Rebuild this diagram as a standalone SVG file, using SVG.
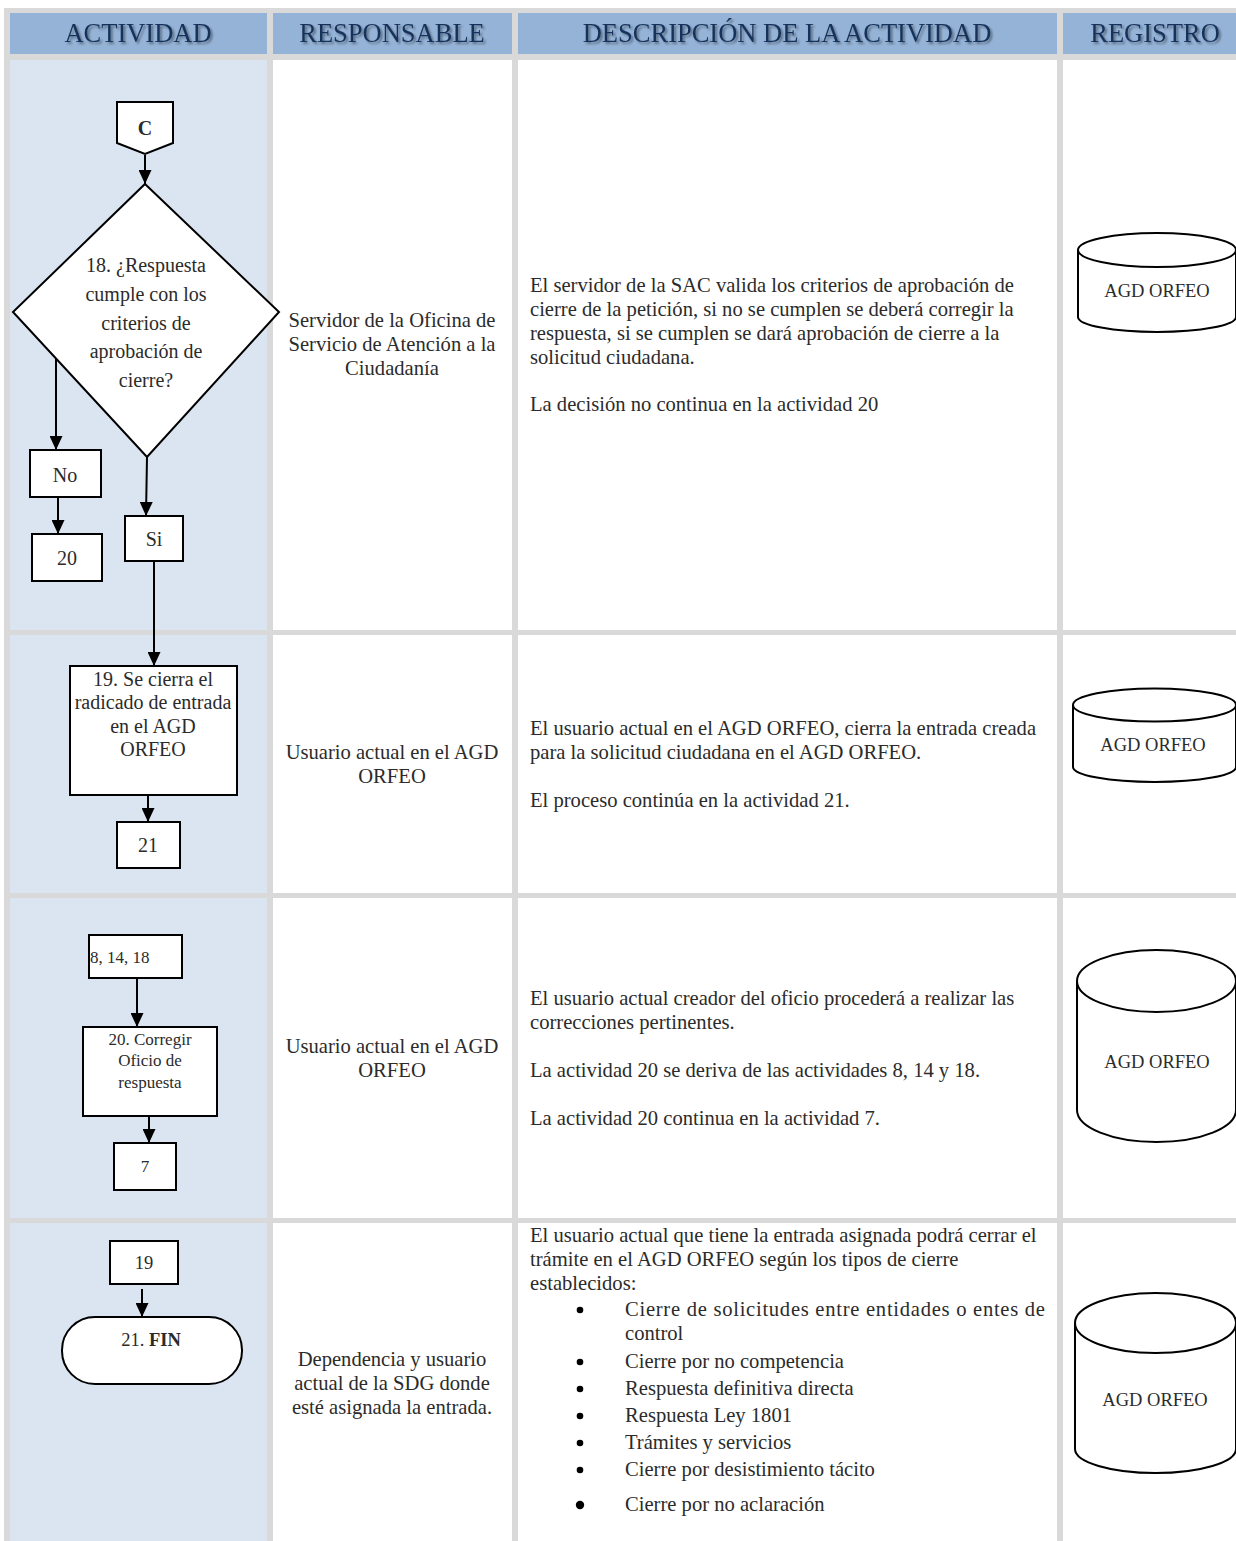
<svg xmlns="http://www.w3.org/2000/svg" width="1236" height="1541" viewBox="0 0 1236 1541">
<style>
.hd{font-family:"Liberation Serif","Times New Roman",serif;font-size:26.5px;fill:#17335a;text-anchor:middle}
.t{font-family:"Liberation Serif","Times New Roman",serif;font-size:20px;fill:#2b2b2b}
.b{font-size:20.6px}
.c{text-anchor:middle}
.s17{font-size:17px}
.s18{font-size:18.5px}
.sh{fill:#fff;stroke:#000;stroke-width:2}
.cn{stroke:#000;stroke-width:2;fill:none}
</style>
<defs>
<filter id="shadow" x="-10%" y="-30%" width="120%" height="160%">
<feDropShadow dx="2" dy="2" stdDeviation="1.3" flood-color="#000" flood-opacity="0.4"/>
</filter>
<marker id="ah" markerUnits="userSpaceOnUse" markerWidth="14" markerHeight="13" refX="14" refY="6.5" orient="auto">
<path d="M0,0 L14,6.5 L0,13 z" fill="#000"/>
</marker>
</defs>
<rect x="0" y="0" width="1236" height="1541" fill="#fff"/>
<g id="table">
<rect x="4" y="8" width="1232" height="1533" fill="#d9d9d9"/>
<rect x="10" y="13" width="257" height="41" fill="#95b3d7"/>
<rect x="273" y="13" width="239" height="41" fill="#95b3d7"/>
<rect x="518" y="13" width="539" height="41" fill="#95b3d7"/>
<rect x="1063" y="13" width="173" height="41" fill="#95b3d7"/>
<rect x="10" y="60" width="257" height="570" fill="#dbe5f1"/>
<rect x="273" y="60" width="239" height="570" fill="#fff"/>
<rect x="518" y="60" width="539" height="570" fill="#fff"/>
<rect x="1063" y="60" width="173" height="570" fill="#fff"/>
<rect x="10" y="635" width="257" height="258" fill="#dbe5f1"/>
<rect x="273" y="635" width="239" height="258" fill="#fff"/>
<rect x="518" y="635" width="539" height="258" fill="#fff"/>
<rect x="1063" y="635" width="173" height="258" fill="#fff"/>
<rect x="10" y="898" width="257" height="320" fill="#dbe5f1"/>
<rect x="273" y="898" width="239" height="320" fill="#fff"/>
<rect x="518" y="898" width="539" height="320" fill="#fff"/>
<rect x="1063" y="898" width="173" height="320" fill="#fff"/>
<rect x="10" y="1223" width="257" height="318" fill="#dbe5f1"/>
<rect x="273" y="1223" width="239" height="318" fill="#fff"/>
<rect x="518" y="1223" width="539" height="318" fill="#fff"/>
<rect x="1063" y="1223" width="173" height="318" fill="#fff"/>
<g filter="url(#shadow)">
<text class="hd" x="138" y="42">ACTIVIDAD</text>
<text class="hd" x="392" y="42">RESPONSABLE</text>
<text class="hd" x="787" y="42">DESCRIPCIÓN DE LA ACTIVIDAD</text>
<text class="hd" x="1155" y="42">REGISTRO</text>
</g>
</g>
<g id="connectors">
<line class="cn" x1="145" y1="155" x2="145" y2="184" marker-end="url(#ah)"/>
<line class="cn" x1="56" y1="359" x2="56" y2="450" marker-end="url(#ah)"/>
<line class="cn" x1="58" y1="497" x2="58" y2="534" marker-end="url(#ah)"/>
<line class="cn" x1="147" y1="457" x2="146" y2="516" marker-end="url(#ah)"/>
<line class="cn" x1="154" y1="561" x2="154" y2="666" marker-end="url(#ah)"/>
<line class="cn" x1="148" y1="795" x2="148" y2="822" marker-end="url(#ah)"/>
<line class="cn" x1="137" y1="978" x2="137" y2="1027" marker-end="url(#ah)"/>
<line class="cn" x1="149" y1="1116" x2="149" y2="1143" marker-end="url(#ah)"/>
<line class="cn" x1="142" y1="1289" x2="142" y2="1317" marker-end="url(#ah)"/>
</g>
<g id="node-C">
<path class="sh" d="M117,102 L173,102 L173,143 L145,154 L117,143 Z"/>
<text class="t c" x="145" y="135" font-weight="bold">C</text>
</g>
<g id="node-18">
<path class="sh" d="M145,184 L279,312 L147,457 L13,312 Z"/>
<text class="t c" x="146" y="272">18. ¿Respuesta</text>
<text class="t c" x="146" y="301">cumple con los</text>
<text class="t c" x="146" y="330">criterios de</text>
<text class="t c" x="146" y="358">aprobación de</text>
<text class="t c" x="146" y="387">cierre?</text>
</g>
<g id="node-no">
<rect class="sh" x="30" y="450" width="71" height="47"/>
<text class="t c" x="65" y="482">No</text>
</g>
<g id="node-20a">
<rect class="sh" x="32" y="534" width="70" height="47"/>
<text class="t c" x="67" y="565">20</text>
</g>
<g id="node-si">
<rect class="sh" x="125" y="516" width="58" height="45"/>
<text class="t c" x="154" y="546">Si</text>
</g>
<g id="node-19">
<rect class="sh" x="70" y="666" width="167" height="129"/>
<text class="t c" x="153" y="686" font-size="20.5">19. Se cierra el</text>
<text class="t c" x="153" y="709" font-size="20.5">radicado de entrada</text>
<text class="t c" x="153" y="733" font-size="20.5">en el AGD</text>
<text class="t c" x="153" y="756" font-size="20.5">ORFEO</text>
</g>
<g id="node-21a">
<rect class="sh" x="117" y="822" width="63" height="46"/>
<text class="t c" x="148" y="852">21</text>
</g>
<g id="node-8-14-18">
<rect class="sh" x="89" y="935" width="93" height="43"/>
<text class="t s17" x="90" y="963">8, 14, 18</text>
</g>
<g id="node-20">
<rect class="sh" x="83" y="1027" width="134" height="89"/>
<text class="t c s17" x="150" y="1045">20. Corregir</text>
<text class="t c s17" x="150" y="1066">Oficio de</text>
<text class="t c s17" x="150" y="1088">respuesta</text>
</g>
<g id="node-7">
<rect class="sh" x="114" y="1143" width="62" height="47"/>
<text class="t c s17" x="145" y="1172">7</text>
</g>
<g id="node-19b">
<rect class="sh" x="110" y="1241" width="68" height="43"/>
<text class="t c s18" x="144" y="1269">19</text>
</g>
<g id="node-fin">
<rect class="sh" x="62" y="1317" width="180" height="67" rx="33" ry="33"/>
<text class="t c s18" x="151" y="1346">21. <tspan font-weight="bold">FIN</tspan></text>
</g>
<g id="responsables">
<text class="t b c" x="392" y="327">Servidor de la Oficina de</text>
<text class="t b c" x="392" y="351">Servicio de Atención a la</text>
<text class="t b c" x="392" y="375">Ciudadanía</text>
<text class="t b c" x="392" y="759">Usuario actual en el AGD</text>
<text class="t b c" x="392" y="783">ORFEO</text>
<text class="t b c" x="392" y="1053">Usuario actual en el AGD</text>
<text class="t b c" x="392" y="1077">ORFEO</text>
<text class="t b c" x="392" y="1366">Dependencia y usuario</text>
<text class="t b c" x="392" y="1390">actual de la SDG donde</text>
<text class="t b c" x="392" y="1414">esté asignada la entrada.</text>
</g>
<g id="descripciones">
<text class="t b" x="530" y="292">El servidor de la SAC valida los criterios de aprobación de</text>
<text class="t b" x="530" y="316">cierre de la petición, si no se cumplen se deberá corregir la</text>
<text class="t b" x="530" y="340">respuesta, si se cumplen se dará aprobación de cierre a la</text>
<text class="t b" x="530" y="364">solicitud ciudadana.</text>
<text class="t b" x="530" y="411">La decisión no continua en la actividad 20</text>
<text class="t b" x="530" y="735">El usuario actual en el AGD ORFEO, cierra la entrada creada</text>
<text class="t b" x="530" y="759">para la solicitud ciudadana en el AGD ORFEO.</text>
<text class="t b" x="530" y="807">El proceso continúa en la actividad 21.</text>
<text class="t b" x="530" y="1005">El usuario actual creador del oficio procederá a realizar las</text>
<text class="t b" x="530" y="1029">correcciones pertinentes.</text>
<text class="t b" x="530" y="1077">La actividad 20 se deriva de las actividades 8, 14 y 18.</text>
<text class="t b" x="530" y="1125">La actividad 20 continua en la actividad 7.</text>
<text class="t b" x="530" y="1242">El usuario actual que tiene la entrada asignada podrá cerrar el</text>
<text class="t b" x="530" y="1266">trámite en el AGD ORFEO según los tipos de cierre</text>
<text class="t b" x="530" y="1290">establecidos:</text>
<circle cx="580" cy="1310" r="3.3"/>
<circle cx="580" cy="1362" r="3.3"/>
<circle cx="580" cy="1389" r="3.3"/>
<circle cx="580" cy="1416" r="3.3"/>
<circle cx="580" cy="1443" r="3.3"/>
<circle cx="580" cy="1470" r="3.3"/>
<circle cx="580" cy="1505" r="4.2"/>
<text class="t b" x="625" y="1316" textLength="420" lengthAdjust="spacing">Cierre de solicitudes entre entidades o entes de</text>
<text class="t b" x="625" y="1340">control</text>
<text class="t b" x="625" y="1368">Cierre por no competencia</text>
<text class="t b" x="625" y="1395">Respuesta definitiva directa</text>
<text class="t b" x="625" y="1422">Respuesta Ley 1801</text>
<text class="t b" x="625" y="1449">Trámites y servicios</text>
<text class="t b" x="625" y="1476">Cierre por desistimiento tácito</text>
<text class="t b" x="625" y="1511">Cierre por no aclaración</text>
</g>
<g id="registro-1">
<path class="sh" d="M1078,250 A79,17 0 0 1 1236,250 L1236,317 A79,15 0 0 1 1078,317 Z"/>
<path class="cn" d="M1078,250 A79,17 0 0 0 1236,250"/>
<text class="t c s18" x="1157" y="297">AGD ORFEO</text>
</g>
<g id="registro-2">
<path class="sh" d="M1073,705 A81.5,16.5 0 0 1 1236,705 L1236,767 A81.5,15 0 0 1 1073,767 Z"/>
<path class="cn" d="M1073,705 A81.5,16.5 0 0 0 1236,705"/>
<text class="t c s18" x="1153" y="751">AGD ORFEO</text>
</g>
<g id="registro-3">
<path class="sh" d="M1077,981 A79.5,31 0 0 1 1236,981 L1236,1110 A79.5,32 0 0 1 1077,1110 Z"/>
<path class="cn" d="M1077,981 A79.5,31 0 0 0 1236,981"/>
<text class="t c s18" x="1157" y="1068">AGD ORFEO</text>
</g>
<g id="registro-4">
<path class="sh" d="M1075,1323 A80.5,30 0 0 1 1236,1323 L1236,1449 A80.5,24 0 0 1 1075,1449 Z"/>
<path class="cn" d="M1075,1323 A80.5,30 0 0 0 1236,1323"/>
<text class="t c s18" x="1155" y="1406">AGD ORFEO</text>
</g>
</svg>
